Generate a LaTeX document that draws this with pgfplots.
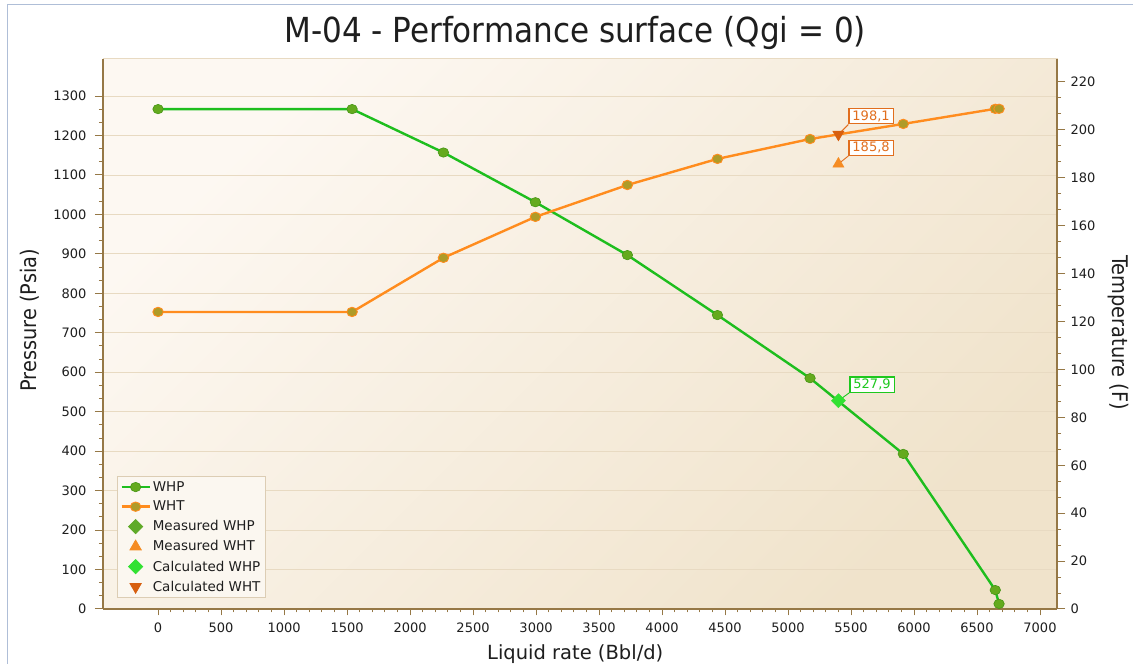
\documentclass[border=0pt]{standalone}
\usepackage{fontspec}
\setmainfont{DejaVu Sans}
\newfontfamily\condfont{DejaVu Sans Condensed}
\usepackage{pgfplots}
\pgfplotsset{compat=1.18}

\definecolor{axisc}{RGB}{150,120,70}
\definecolor{gridc}{RGB}{232,218,194}
\definecolor{bgtl}{RGB}{253,248,242}
\definecolor{bgbr}{RGB}{240,227,203}
\definecolor{textc}{RGB}{30,30,30}
\definecolor{whpline}{RGB}{30,190,30}
\definecolor{whpmark}{RGB}{100,170,30}
\definecolor{whpmarkd}{RGB}{70,150,20}
\definecolor{whtline}{RGB}{255,140,30}
\definecolor{whtmark}{RGB}{175,155,40}
\definecolor{mwhp}{RGB}{95,170,40}
\definecolor{mwht}{RGB}{245,140,35}
\definecolor{cwhp}{RGB}{50,225,50}
\definecolor{cwht}{RGB}{215,95,15}
\definecolor{annwhp}{RGB}{30,200,30}
\definecolor{annwht}{RGB}{225,110,30}
\definecolor{legbg}{RGB}{251,247,240}
\definecolor{legdr}{RGB}{220,205,180}
\definecolor{framec}{RGB}{175,190,215}

\pgfplotstableread{
x y
0 1267
1540 1267
2265 1157
2995 1031
3725 897
4440 745
5175 585
5915 393
6645 48
6675 13
}\whp

\pgfplotstableread{
x y
0 124
1540 124
2265 146.6
2995 163.7
3725 177
4440 187.9
5175 196.2
5915 202.5
6645 208.8
6675 208.8
}\wht

\pgfplotsset{
  whpstyle/.style={color=whpline, line width=2.4pt, mark=*, mark size=4.7pt,
    mark options={xscale=1.12, fill=whpmark, draw=whpmarkd, line width=0.6pt}},
  whtstyle/.style={color=whtline, line width=2.4pt, mark=*, mark size=4.7pt,
    mark options={xscale=1.12, fill=whtmark, draw=whtline, line width=0.9pt}},
  mwhpstyle/.style={only marks, mark=square*, mark size=5pt, mark options={rotate=45, fill=mwhp, draw=mwhp}},
  mwhtstyle/.style={only marks, mark=triangle*, mark size=6.5pt, mark options={fill=mwht, draw=mwht}},
  cwhpstyle/.style={only marks, mark=square*, mark size=5pt, mark options={rotate=45, fill=cwhp, draw=cwhp}},
  cwhtstyle/.style={only marks, mark=triangle*, mark size=6.5pt, mark options={rotate=180, fill=cwht, draw=cwht}},
  common/.style={
    at={(103pt,55pt)}, anchor=south west, scale only axis,
    width=954pt, height=550pt,
    xmin=-437, xmax=7135, clip=false,
    tick align=outside,
    major tick length=8pt, minor tick length=4pt,
    tick style={color=axisc, line width=1pt},
    axis line style={-, draw=axisc, line width=1.3pt},
    ticklabel style={font=\fontsize{13}{15}\selectfont, color=textc},
    /pgf/number format/assume math mode=true,
    /pgf/number format/set thousands separator={},
  },
}

\begin{document}
\begin{tikzpicture}
\useasboundingbox (0,0) rectangle (1133pt,664pt);
\fill[white] (0,0) rectangle (1133pt,664pt);
\draw[framec, line width=1pt] (7pt,0pt) -- (7pt,659pt) -- (1133pt,659pt);

\begin{axis}[common,
  ymin=0, ymax=1394,
  axis x line*=bottom, axis y line*=left,
  xtick={0,500,...,7000}, minor x tick num=4,
  ytick={0,100,...,1300}, minor y tick num=2,
  xtick style={/pgfplots/major tick length=6.5pt, /pgfplots/minor tick length=3.5pt},
  xticklabel style={yshift=-2pt},
  yticklabel style={xshift=-5pt},
  ymajorgrids, major grid style={color=gridc, line width=0.9pt},
  axis background/.style={top color=bgtl, bottom color=bgbr, shading angle=45, draw=gridc, line width=1pt},
  title={M-04 - Performance surface (Qgi = 0)},
  title style={at={(axis description cs:0.495,1.037)}, anchor=center, font=\condfont\fontsize{34.5}{38}\selectfont, color=textc},
  xlabel={Liquid rate (Bbl/d)},
  xlabel style={at={(axis description cs:0.495,-0.082)}, anchor=center, font=\fontsize{19.5}{21}\selectfont, color=textc},
  ylabel={Pressure (Psia)},
  ylabel style={at={(axis description cs:-0.0765,0.525)}, anchor=center, rotate=0, font=\condfont\fontsize{21.5}{23}\selectfont, color=textc},
  legend image code/.code={\draw[mark repeat=2,mark phase=2,#1] plot coordinates {(0pt,0pt)(14pt,0pt)(28pt,0pt)};},
  legend style={at={(axis description cs:0.0147,0.02)}, anchor=south west,
    fill=legbg, draw=legdr, line width=0.8pt, font=\fontsize{13.5}{15}\selectfont, text=textc,
    inner xsep=3pt, inner ysep=3pt, row sep=4.3pt, cells={anchor=west},
    /tikz/every even column/.append style={column sep=2pt}},
]
\addplot[whpstyle] table[x=x,y=y] {\whp};
\addlegendentry{WHP}
\addlegendimage{whtstyle}
\addlegendentry{WHT}
\addlegendimage{mwhpstyle}
\addlegendentry{Measured WHP}
\addlegendimage{mwhtstyle}
\addlegendentry{Measured WHT}
\addplot[cwhpstyle] coordinates {(5400,527.9)};
\addlegendentry{Calculated WHP}
\addlegendimage{cwhtstyle}
\addlegendentry{Calculated WHT}
\draw[annwhp, line width=0.9pt] (axis cs:5400,527.9) -- ++(11pt,8pt)
  node[anchor=south west, draw=annwhp, fill=white, text=annwhp, line width=1.1pt,
       font=\fontsize{13}{15}\selectfont, inner xsep=3.5pt, inner ysep=2pt] {527,9};
\end{axis}

\begin{axis}[common,
  ymin=0, ymax=229.6,
  axis y line*=right, axis x line=none,
  ytick={0,20,...,220}, minor y tick num=2,
  yticklabel style={xshift=2pt},
  ylabel={Temperature (F)},
  ylabel style={at={(axis description cs:1.064,0.502)}, anchor=center, rotate=180, font=\condfont\fontsize{21.5}{23}\selectfont, color=textc},
]
\addplot[whtstyle] table[x=x,y=y] {\wht};
\addplot[mwhtstyle] coordinates {(5400,185.8)};
\addplot[cwhtstyle] coordinates {(5400,198.1)};
\draw[annwht, line width=0.9pt] (axis cs:5400,198.1) -- ++(10pt,10pt)
  node[anchor=south west, draw=annwht, fill=white, text=annwht, line width=1.1pt,
       font=\fontsize{13}{15}\selectfont, inner xsep=3.5pt, inner ysep=2pt] {198,1};
\draw[annwht, line width=0.9pt] (axis cs:5400,185.8) -- ++(10pt,8pt)
  node[anchor=south west, draw=annwht, fill=white, text=annwht, line width=1.1pt,
       font=\fontsize{13}{15}\selectfont, inner xsep=3.5pt, inner ysep=2pt] {185,8};
\end{axis}
\end{tikzpicture}
\end{document}
